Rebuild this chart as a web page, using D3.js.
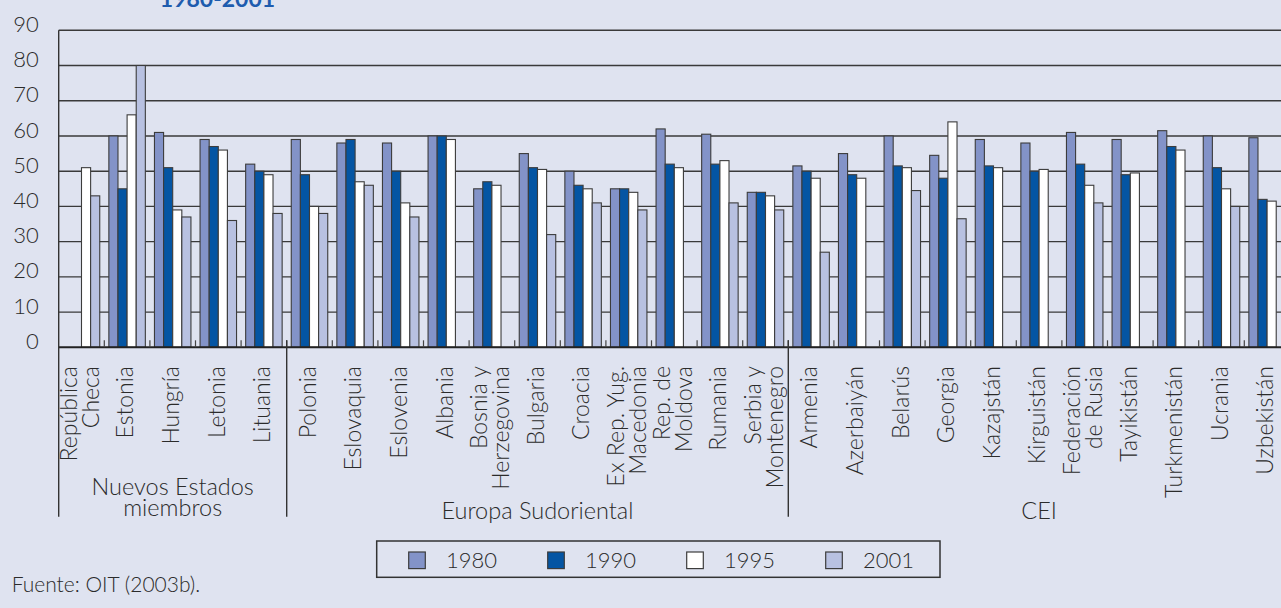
<!DOCTYPE html>
<html>
<head>
<meta charset="utf-8">
<script src="https://cdn.jsdelivr.net/npm/d3@7"></script>
<style>
  html, body { margin: 0; padding: 0; background: #dfe3f0; }
  svg { display: block; }
  text { font-family: Lato, "Open Sans", sans-serif; font-weight: 300; fill: #2b2b2b; }
</style>
</head>
<body>
<svg id="chart" width="1281" height="608"></svg>
<script>
/*
  Bars per country, four years, grouped by region.
  The plot runs a little past the right edge of the picture on purpose.
*/
const countries = [
  'República\nCheca', 'Estonia', 'Hungría', 'Letonia', 'Lituania',
  'Polonia', 'Eslovaquia', 'Eslovenia', 'Albania', 'Bosnia y\nHerzegovina',
  'Bulgaria', 'Croacia', 'Ex Rep. Yug.\nMacedonia', 'Rep. de\nMoldova', 'Rumania',
  'Serbia y\nMontenegro', 'Armenia', 'Azerbaiyán', 'Belarús', 'Georgia',
  'Kazajstán', 'Kirguistán', 'Federación\nde Rusia', 'Tayikistán', 'Turkmenistán',
  'Ucrania', 'Uzbekistán'
];
const years = ['1980', '1990', '1995', '2001'];

const values1980 = [null, 60, 61, 59, 52, 59, 58, 58, 60, 45, 55, 50, 45, 62, 60.5, 44,
  51.5, 55, 60, 54.5, 59, 58, 61, 59, 61.5, 60, 59.5];
const values1990 = [null, 45, 51, 57, 50, 49, 59, 50, 60, 47, 51, 46, 45, 52, 52, 44,
  50, 49, 51.5, 48, 51.5, 50, 52, 49, 57, 51, 42];
const values1995 = [51, 66, 39, 56, 49, 40, 47, 41, 59, 46, 50.5, 45, 44, 51, 53, 43,
  48, 48, 51, 64, 51, 50.5, 46, 49.5, 56, 45, 41.5];
const values2001 = [43, 80, 37, 36, 38, 38, 46, 37, null, null, 32, 41, 39, null, 41, 39,
  27, null, 44.5, 36.5, null, null, 41, null, null, 40, null];

const regionNames = ['Nuevos Estados\nmiembros', 'Europa Sudoriental', 'CEI'];
const regionSizes = [5, 11, 11];

const yTicks = [0, 10, 20, 30, 40, 50, 60, 70, 80, 90];
const title = '1980-2001';
const source = 'Fuente: OIT (2003b).';

const seriesByYear = { '1980': values1980, '1990': values1990, '1995': values1995, '2001': values2001 };
const colors = { '1980': '#8393c8', '1990': '#0455a3', '1995': '#ffffff', '2001': '#b8c1e1' };

// layout
const WIDTH = 1281;
const HEIGHT = 608;
const margin = { left: 58.7, top: 30.3, bottom: 347.3 };
const step = 45.6;
const regionLineBottom = 516.7;
const lineColor = '#3a3a3a';

const scale = {};
scale.x = d3.scaleBand()
  .domain(countries)
  .range([margin.left, margin.left + step * countries.length]);
scale.xYear = d3.scaleBand()
  .domain(years)
  .range([0, scale.x.bandwidth()])
  .paddingOuter(0.5);
scale.y = d3.scaleLinear()
  .domain([0, 90])
  .range([margin.bottom, margin.top]);

const dom = {};
dom.svg = d3.select('#chart');

dom.svg.append('rect')
  .attr('width', WIDTH)
  .attr('height', HEIGHT)
  .attr('fill', '#dfe3f0');

/*
 * Gridlines + y labels
 */
dom.grid = dom.svg.append('g');
dom.grid.selectAll('line')
  .data(yTicks.filter(t => t > 0))
  .enter()
  .append('line')
  .attr('x1', margin.left)
  .attr('x2', WIDTH)
  .attr('y1', d => scale.y(d))
  .attr('y2', d => scale.y(d))
  .attr('stroke', lineColor)
  .attr('stroke-width', 1.4);

const axisY = d3.axisLeft(scale.y)
  .tickValues(yTicks)
  .tickSize(0)
  .tickPadding(20)
  .tickFormat(d3.format('d'));

dom.axisY = dom.svg.append('g')
  .attr('transform', `translate(${margin.left}, 0)`)
  .call(axisY);
dom.axisY.select('.domain').remove();
dom.axisY.selectAll('text')
  .attr('dy', '0.05em')
  .style('font-family', 'Lato, sans-serif')
  .style('font-weight', 300)
  .style('font-size', '22px')
  .style('fill', '#2b2b2b');

/*
 * Bars
 */
dom.bars = dom.svg.append('g');
const groups = dom.bars.selectAll('g')
  .data(countries)
  .enter()
  .append('g')
  .attr('transform', c => `translate(${scale.x(c)}, 0)`);

groups.selectAll('rect')
  .data((c, i) => years
    .map(yr => ({ year: yr, value: seriesByYear[yr][i] }))
    .filter(d => d.value !== null))
  .enter()
  .append('rect')
  .attr('x', d => scale.xYear(d.year))
  .attr('y', d => scale.y(d.value))
  .attr('width', scale.xYear.bandwidth())
  .attr('height', d => margin.bottom - scale.y(d.value))
  .attr('fill', d => colors[d.year])
  .attr('stroke', '#3c3c3c')
  .attr('stroke-width', 1.1);

/*
 * Axis line, left border, small ticks, region separators
 */
dom.frame = dom.svg.append('g');
dom.frame.append('line')
  .attr('x1', margin.left).attr('x2', WIDTH)
  .attr('y1', margin.bottom).attr('y2', margin.bottom)
  .attr('stroke', '#222').attr('stroke-width', 2);

dom.frame.selectAll('.tick-small')
  .data(countries.slice(1))
  .enter()
  .append('line')
  .attr('class', 'tick-small')
  .attr('x1', c => scale.x(c))
  .attr('x2', c => scale.x(c))
  .attr('y1', margin.bottom - 7)
  .attr('y2', margin.bottom)
  .attr('stroke', '#444')
  .attr('stroke-width', 1.2);

let acc = 0;
const regionStarts = regionSizes.map(n => { const s = acc; acc += n; return s; });
const regionBounds = regionStarts.map((s, i) => ({
  name: regionNames[i],
  x0: scale.x(countries[s]),
  x1: scale.x(countries[s]) + step * regionSizes[i]
}));

dom.frame.append('line')
  .attr('x1', margin.left).attr('x2', margin.left)
  .attr('y1', margin.top).attr('y2', regionLineBottom)
  .attr('stroke', '#333').attr('stroke-width', 1.4);

dom.frame.selectAll('.region-line')
  .data(regionBounds.slice(1))
  .enter()
  .append('line')
  .attr('class', 'region-line')
  .attr('x1', d => d.x0).attr('x2', d => d.x0)
  .attr('y1', margin.bottom - 7).attr('y2', regionLineBottom)
  .attr('stroke', '#333').attr('stroke-width', 1.4);

/*
 * Country labels, rotated, ending just under the axis
 */
const labelSize = 23;
const labelPitch = 22;
dom.labels = dom.svg.append('g');
dom.labels.selectAll('text')
  .data(countries)
  .enter()
  .append('text')
  .attr('transform', c => `translate(${scale.x(c) + scale.x.bandwidth() / 2}, 366) rotate(-90)`)
  .attr('text-anchor', 'end')
  .style('font-size', `${labelSize}px`)
  .each(function(c) {
    const lines = c.split('\n');
    d3.select(this).selectAll('tspan')
      .data(lines)
      .enter()
      .append('tspan')
      .attr('x', 0)
      .attr('y', (l, i) => 6.3 + (i - (lines.length - 1) / 2) * labelPitch)
      .text(l => l);
  });

/*
 * Region labels
 */
dom.regions = dom.svg.append('g');
dom.regions.selectAll('text')
  .data(regionBounds)
  .enter()
  .append('text')
  .attr('text-anchor', 'middle')
  .style('font-size', '23.5px')
  .each(function(d) {
    const lines = d.name.split('\n');
    const cx = (d.x0 + d.x1) / 2;
    d3.select(this).selectAll('tspan')
      .data(lines)
      .enter()
      .append('tspan')
      .attr('x', cx)
      .attr('y', (l, i) => 519 - (lines.length - 1 - i) * 21 - (lines.length > 1 ? 3 : 0))
      .text(l => l);
  });

/*
 * Legend
 */
const legend = { x: 376.7, y: 541, w: 563.3, h: 36.3, first: 408.7, gap: 139, box: 16.6 };
dom.legend = dom.svg.append('g');
dom.legend.append('rect')
  .attr('x', legend.x).attr('y', legend.y)
  .attr('width', legend.w).attr('height', legend.h)
  .attr('fill', 'none')
  .attr('stroke', '#333').attr('stroke-width', 1.5);

const items = dom.legend.selectAll('g')
  .data(years)
  .enter()
  .append('g')
  .attr('transform', (yr, i) => `translate(${legend.first + i * legend.gap}, 552)`);
items.append('rect')
  .attr('width', legend.box).attr('height', legend.box)
  .attr('fill', yr => colors[yr])
  .attr('stroke', '#3c3c3c').attr('stroke-width', 1.2);
items.append('text')
  .attr('x', 37.3).attr('y', 16.3)
  .style('font-size', '22px')
  .text(yr => yr);

/*
 * Title (cut at the top) and source
 */
dom.svg.append('text')
  .attr('x', 217.5).attr('y', 7.3)
  .attr('text-anchor', 'middle')
  .style('font-size', '23px')
  .style('font-weight', 700)
  .style('fill', '#1e5cae')
  .text(title);

dom.svg.append('text')
  .attr('x', 11.7).attr('y', 592.3)
  .style('font-size', '21px')
  .text(source);
</script>
</body>
</html>
